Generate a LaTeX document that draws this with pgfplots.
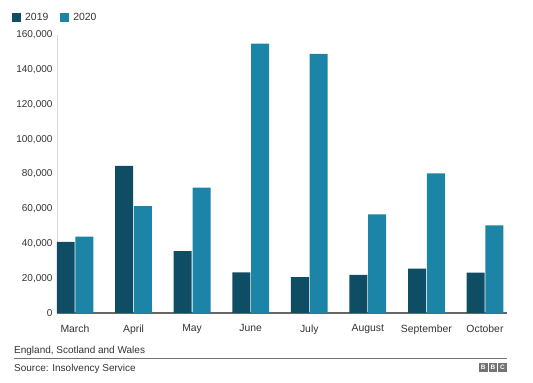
\documentclass[border=0pt]{standalone}
\usepackage{fontspec}
\setmainfont{Liberation Sans}
\usepackage{pgfplots}
\pgfplotsset{compat=1.18}
\definecolor{c2019}{HTML}{0F4D64}
\definecolor{c2020}{HTML}{1B84A7}
\definecolor{txt}{HTML}{333333}
\begin{document}
\begin{tikzpicture}[x=1pt,y=1pt]
\path[use as bounding box] (0,0) rectangle (533,383);
\begin{axis}[
  at={(57pt,70pt)}, anchor=south west,
  scale only axis, width=450pt, height=278pt,
  xmin=-0.307, xmax=7.376, ymin=0, ymax=160000,
  axis x line*=bottom, axis y line*=left,
  x axis line style={draw=black!60, line width=1.3pt},
  y axis line style={draw=black!15, line width=0.6pt},
  xtick={0,...,7},
  xticklabels={March,April,May,June,July,August,September,October},
  ytick={0,20000,40000,60000,80000,100000,120000,140000,160000},
  yticklabels={0,{20,000},{40,000},{60,000},{80,000},{100,000},{120,000},{140,000},{160,000}},
  scaled y ticks=false,
  major tick length=0pt,
  ticklabel style={font=\fontsize{10}{12}\selectfont, text=txt},
  xticklabel style={yshift=-8pt, font=\fontsize{10.4}{12}\selectfont},
  yticklabel style={xshift=-1pt},
  ybar, bar width=18pt,
  legend columns=2,
  legend style={draw=none, fill=none, at={(rel axis cs:-0.1,1.085)}, anchor=north west,
    font=\fontsize{10.4}{12}\selectfont, text=txt, inner sep=0pt,
    /tikz/every odd column/.append style={column sep=2pt},
    /tikz/every even column/.append style={column sep=10pt}},
  legend image code/.code={\fill[#1] (0pt,-4pt) rectangle (9pt,5pt);},
]
\addplot[fill=c2019, draw=none, bar shift=-9.4pt] coordinates {
 (0,41000) (1,84700) (2,35600) (3,23400) (4,20600) (5,21900) (6,25600) (7,23300)};
\addplot[fill=c2020, draw=none, bar shift=9.4pt] coordinates {
 (0,43900) (1,61500) (2,72200) (3,155000) (4,149200) (5,56700) (6,80400) (7,50500)};
\legend{2019,2020}
\end{axis}
\node[anchor=base west, inner sep=0pt, text=txt, font=\fontsize{10}{12}\selectfont] at (14,29) {England, Scotland and Wales};
\draw[black!55, line width=0.8pt] (14,25) -- (507,25);
\node[anchor=base west, inner sep=0pt, text=txt, font=\fontsize{10}{12}\selectfont] at (14,12) {Source: Insolvency Service};
\foreach \i/\l in {0/B,1/B,2/C}{
  \fill[black!55] (479+\i*9.6,11) rectangle (487.5+\i*9.6,19.5);
  \node[text=white, font=\fontsize{6.5}{7}\bfseries\selectfont, inner sep=0pt] at (483.25+\i*9.6,15.25) {\l};
}
\end{tikzpicture}
\end{document}
